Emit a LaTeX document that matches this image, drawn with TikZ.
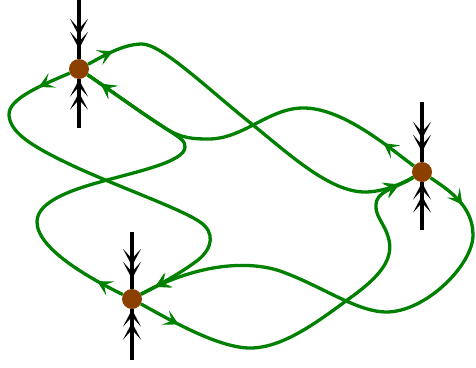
\documentclass[tikz,border=0pt]{standalone}
\usepackage{xcolor}
\usepackage{tikz}
\usetikzlibrary{arrows.meta,decorations.markings}

\definecolor{flowgreen}{RGB}{0,128,0}
\definecolor{saddlebrown}{RGB}{139,64,0}

\begin{document}
\begin{tikzpicture}[x=1pt,y=-1pt,
  saddle/.style={circle,fill=saddlebrown,minimum size=20pt,inner sep=0pt},
  stable/.style={line width=4pt,postaction={decorate},
    decoration={markings,
      mark=at position {-#1} with {\arrow{Stealth[length=17pt,width=18pt,inset=10pt]}},
      mark=at position {-#1-13pt} with {\arrow{Stealth[length=17pt,width=18pt,inset=10pt]}}}},
  stable/.default=0.5pt,
  conn/.style={line width=3.3pt,flowgreen,postaction={decorate},
    decoration={markings,
      mark=at position #1 with {\arrow{Stealth[length=15pt,width=16pt,inset=7pt]}},
      mark=at position -16pt with {\arrow{Stealth[length=15pt,width=16pt,inset=7pt]}}}},
  conn/.default=30pt]
  \useasboundingbox (0,0) rectangle (476,367);
  \node[saddle] (A) at (79,69) {};
  \node[saddle] (B) at (422,172) {};
  \node[saddle] (C) at (132,299) {};
  \coordinate (At) at (79,0);   \coordinate (Ab) at (79,128);
  \coordinate (Bt) at (422,102); \coordinate (Bb) at (422,230);
  \coordinate (Ct) at (132,232); \coordinate (Cb) at (132,360);
  \draw[stable=10pt] (At) -- (A);
  \draw[stable] (Ab) -- (A);
  \draw[stable=10pt] (Bt) -- (B);
  \draw[stable] (Bb) -- (B);
  \draw[stable=10pt] (Ct) -- (C);
  \draw[stable] (Cb) -- (C);
  \draw[conn=28pt] (A) .. controls (100,58) and (122,44) .. (142,44)
    .. controls (162,44) and (210,91) .. (253,125)
    .. controls (290,155) and (330,192) .. (365,192)
    .. controls (385,192) and (405,182) .. (B);
  \draw[conn=34pt] (A) .. controls (45,84) and (8,98) .. (9,115)
    .. controls (10,132) and (30,145) .. (65,162)
    .. controls (110,184) and (180,208) .. (200,222)
    .. controls (215,232) and (213,248) .. (198,260)
    .. controls (185,270) and (165,282) .. (C);
  \draw[conn=38pt] (B) .. controls (392,150) and (345,109) .. (305,108)
    .. controls (270,107) and (245,138) .. (210,139)
    .. controls (195,139) and (182,139) .. (165,128)
    .. controls (140,112) and (110,90) .. (A);
  \draw[conn=42pt] (B) .. controls (447,189) and (473,205) .. (473,235)
    .. controls (473,265) and (425,313) .. (385,312)
    .. controls (355,311) and (320,285) .. (280,271)
    .. controls (250,261) and (200,262) .. (C);
  \draw[conn=29pt] (C) .. controls (95,281) and (37,250) .. (37,222)
    .. controls (37,205) and (60,193) .. (100,182)
    .. controls (135,172) and (185,162) .. (185,147)
    .. controls (185,141) and (182,139) .. (165,128)
    .. controls (140,112) and (110,90) .. (A);
  \draw[conn=43pt] (C) .. controls (170,320) and (220,349) .. (252,348)
    .. controls (285,347) and (320,320) .. (350,298)
    .. controls (375,280) and (394,262) .. (389,240)
    .. controls (385,222) and (372,215) .. (377,200)
    .. controls (381,190) and (400,186) .. (B);
\end{tikzpicture}
\end{document}
